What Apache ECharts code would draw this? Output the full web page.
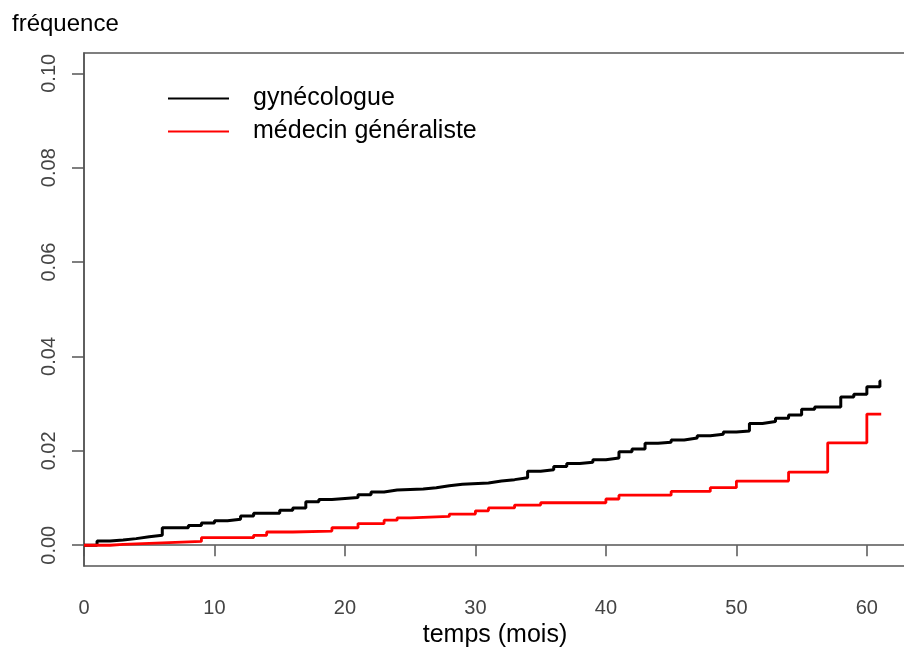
<!DOCTYPE html>
<html>
<head>
<meta charset="utf-8">
<script src="https://cdn.jsdelivr.net/npm/echarts@6/dist/echarts.min.js"></script>
<style>
  html, body { margin: 0; padding: 0; background: #fff; }
  #chart { width: 904px; height: 648px; }
</style>
</head>
<body>
<div id="chart"></div>
<script>
// Cumulative frequency step curves (months since start)
const gyneTimes = [0, 1, 2, 3, 4, 5, 6, 8, 9, 10, 11, 12, 13, 15, 16, 17, 18, 19, 21, 22, 23, 24, 26, 27, 28, 29, 31, 32, 33, 34, 35, 36, 37, 38, 39, 40, 41, 42, 43, 44, 45, 46, 47, 48, 49, 50, 51, 52, 53, 54, 55, 56, 58, 59, 60, 61, 61.1];
const gyneValues = [0, 0.0009, 0.0011, 0.0014, 0.0018, 0.0021, 0.0037, 0.0042, 0.0047, 0.0052, 0.0055, 0.0062, 0.0068, 0.0074, 0.0079, 0.0092, 0.0097, 0.0101, 0.0107, 0.0113, 0.0117, 0.0119, 0.0122, 0.0126, 0.0129, 0.0132, 0.0136, 0.0139, 0.0143, 0.0157, 0.0160, 0.0167, 0.0173, 0.0176, 0.0181, 0.0185, 0.0198, 0.0204, 0.0216, 0.0218, 0.0223, 0.0227, 0.0232, 0.0235, 0.0240, 0.0242, 0.0258, 0.0262, 0.0269, 0.0276, 0.0288, 0.0293, 0.0314, 0.0320, 0.0336, 0.0348, 0.0348];

const gpTimes = [0, 2, 3, 6, 9, 13, 14, 16, 19, 21, 23, 24, 25, 28, 30, 31, 33, 35, 40, 41, 45, 48, 50, 54, 57, 60, 61.1];
const gpValues = [0, 0.0002, 0.0005, 0.0008, 0.0016, 0.0021, 0.0028, 0.0030, 0.0037, 0.0046, 0.0053, 0.0058, 0.0061, 0.0066, 0.0073, 0.0079, 0.0085, 0.0090, 0.0098, 0.0106, 0.0114, 0.0122, 0.0136, 0.0155, 0.0217, 0.0278, 0.0278];

const seriesNames = ['gynécologue', 'médecin généraliste'];
const xTicks = [0, 10, 20, 30, 40, 50, 60];
const yTicks = [0, 0.02, 0.04, 0.06, 0.08, 0.10];

const pairs = (ts, vs) => ts.map((t, i) => [t, vs[i]]);

const FONT = 'Liberation Sans, Arial, Helvetica, sans-serif';
const AXIS_GREY = '#555555';

const chart = echarts.init(document.getElementById('chart'), null, { renderer: 'canvas' });

chart.setOption({
  animation: false,
  backgroundColor: '#ffffff',
  textStyle: { fontFamily: FONT },
  title: {
    text: 'fréquence',
    left: 7,
    top: 7,
    textStyle: { fontFamily: FONT, fontSize: 24, fontWeight: 'normal', color: '#000' }
  },
  legend: {
    orient: 'vertical',
    left: 163,
    top: 81,
    itemWidth: 61,
    itemHeight: 2,
    itemGap: 8,
    icon: 'rect',
    textStyle: { fontFamily: FONT, fontSize: 25, color: '#000', padding: [0, 0, 0, 19] },
    data: seriesNames
  },
  grid: {
    left: 84,
    top: 53,
    right: -2,
    bottom: 82,
    show: true,
    borderColor: AXIS_GREY,
    borderWidth: 1.5,
    containLabel: false,
    outerBoundsMode: 'none'
  },
  xAxis: {
    type: 'value',
    min: 0,
    max: 63,
    name: 'temps (mois)',
    nameLocation: 'middle',
    nameGap: 56,
    nameTextStyle: { fontFamily: FONT, fontSize: 25, color: '#000' },
    splitLine: { show: false },
    axisLine: { show: true, lineStyle: { color: AXIS_GREY, width: 1.5 } },
    axisTick: { show: true, length: 11, customValues: xTicks, lineStyle: { color: AXIS_GREY, width: 1.5 } },
    axisLabel: { customValues: xTicks, margin: 32, fontFamily: FONT, fontSize: 20, color: '#444' }
  },
  yAxis: {
    type: 'value',
    min: -0.0044,
    max: 0.1043,
    splitLine: { show: false },
    axisLine: { show: true, lineStyle: { color: AXIS_GREY, width: 1.5 } },
    axisTick: { show: true, length: 12, customValues: yTicks, lineStyle: { color: AXIS_GREY, width: 1.5 } },
    axisLabel: {
      customValues: yTicks,
      rotate: 90,
      margin: 25,
      fontFamily: FONT,
      fontSize: 20,
      color: '#444',
      formatter: v => v.toFixed(2)
    }
  },
  series: [
    {
      name: seriesNames[0],
      type: 'line',
      step: 'end',
      showSymbol: false,
      color: '#000000',
      lineStyle: { width: 3, color: '#000000' },
      data: pairs(gyneTimes, gyneValues)
    },
    {
      name: seriesNames[1],
      type: 'line',
      step: 'end',
      showSymbol: false,
      color: '#ff0000',
      lineStyle: { width: 2.8, color: '#ff0000' },
      data: pairs(gpTimes, gpValues)
    }
  ]
});
</script>
</body>
</html>
